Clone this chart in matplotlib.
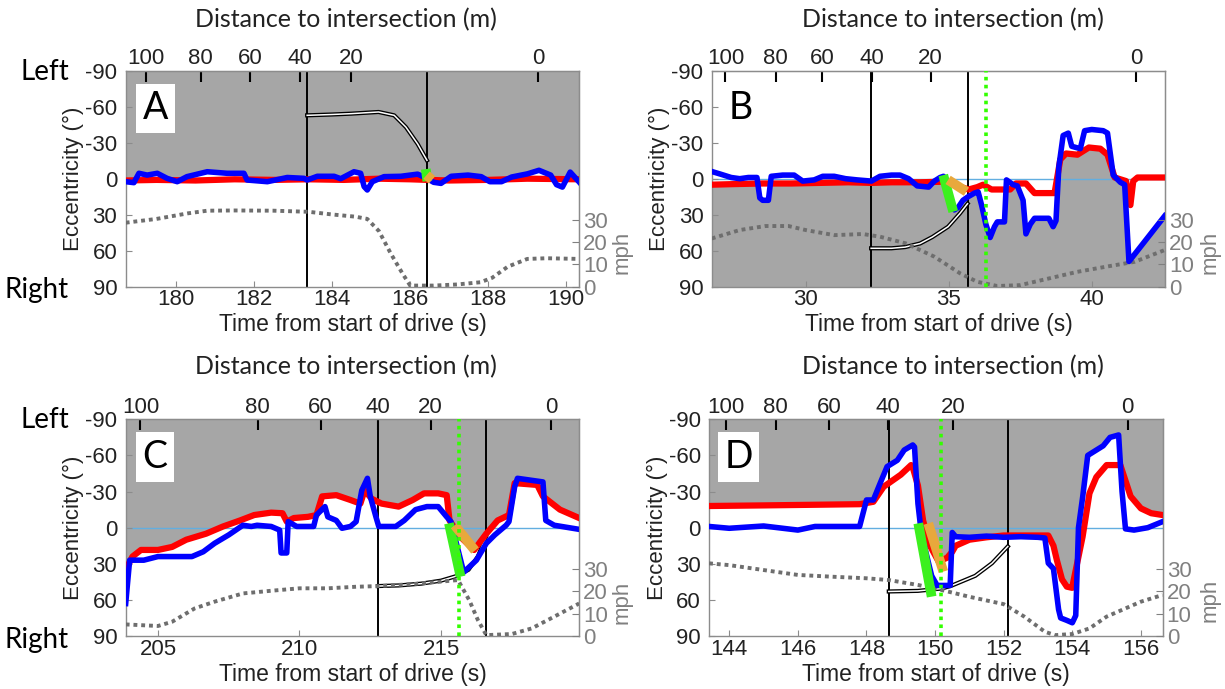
import numpy as np
import matplotlib
matplotlib.use("Agg")
import matplotlib.pyplot as plt

plt.rcParams['font.family'] = ['Liberation Sans', 'DejaVu Sans']
plt.rcParams['axes.unicode_minus'] = False

ecc_ticks = [-90, -60, -30, 0, 30, 60, 90]
ecc_labels = ['-90', '-60', '-30', '0', '30', '60', '90']
mph_ticks = [0, 10, 20, 30]
dist_labels = ['100', '80', '60', '40', '20', '0']

# ---- panel A ----
a_xlim = (178.71, 190.33)
a_xticks = [180, 182, 184, 186, 188, 190]
a_dist_t = [179.22, 180.63, 181.90, 183.17, 184.49, 189.28]
a_t_red = [178.71, 179.5, 180.5, 181.5, 182.5, 183.4, 184.3, 185.2, 186.0, 186.45, 187.0, 188.0, 189.0, 190.33]
a_red = [1.5, 1, 1.5, 0.5, 1, 0.5, 1, 0, 0.5, 1, 1.5, 1, 0, 0.5]
a_t_blue = [178.71, 178.92, 179.05, 179.26, 179.52, 179.77, 180.03, 180.28, 180.8, 181.31,
            181.74, 181.82, 182.34, 182.85, 183.28, 183.36, 183.62, 184.05, 184.22, 184.56,
            184.73, 184.82, 184.9, 185.03, 185.33, 185.76, 186.19, 186.45, 186.6, 186.79,
            187.05, 187.48, 187.82, 188.04, 188.34, 188.6, 189.0, 189.3, 189.6, 189.75,
            189.9, 190.1, 190.33]
a_blue = [2.5, 3.3, -4.5, -3, -4.5, -0.3, 2.5, -1.7, -5.8, -4.5,
          -4.5, 1.1, 2.5, -1, -0.3, 1.1, -2, -2, 0, -5.8,
          -4.5, 6.6, 9.4, 2.5, -1.7, -2, -3.8, 0, 3, 3.9,
          -2, -3, -1.7, 2.5, 2.5, -1.4, -4, -7, -3, 5,
          7, -5.5, 2.8]
a_t_spd = [178.71, 179.5, 180.3, 180.8, 181.5, 182.5, 183.4, 184.0, 184.6, 184.9, 185.2,
           185.5, 185.8, 186.0, 186.6, 187.2, 187.8, 188.1, 188.5, 189.0, 189.5, 190.33]
a_spd = [28.8, 30.5, 33, 34.2, 34.3, 34.2, 33.7, 32.5, 31.5, 30.5, 25,
         15, 6, 0.5, 0.5, 1, 2, 4, 9, 12.5, 12.8, 12.5]
a_t_path = [183.36, 184.0, 184.49, 185.19, 185.59, 185.89, 186.19, 186.43]
a_path = [-52.8, -53.5, -54.2, -55.6, -52.8, -43, -29, -15.3]
a_vlines = [183.36, 186.43]
a_green = ([186.40, 186.44], [-8, 2])
a_orange = ([186.42, 186.56], [-3, 1])

# ---- panel B ----
b_xlim = (26.72, 42.55)
b_xticks = [30, 35, 40]
b_dist_t = [27.2, 28.95, 30.59, 32.32, 34.37, 41.54]
b_t_red = [26.72, 27.5, 28.5, 29.5, 30.5, 31.5, 32.3, 33.0, 34.0, 34.8, 35.3, 35.7, 36.0, 36.2,
           36.5, 37.15, 37.35, 37.7, 38.0, 38.7, 38.9, 39.1, 39.5, 39.9, 40.3, 40.55, 40.8,
           41.2, 41.35, 41.45, 41.6, 42.55]
b_red = [5, 4.5, 4, 4, 3.5, 3, 3.5, 3, 3, 2.5, 6, 9, 7, 5,
         9, 9, 4, 4, 12, 12, -16, -21, -20, -26, -25, -20, -1,
         2, 22, 2, -1, -1]
b_t_blue = [26.72, 27.0, 27.4, 27.7, 28.0, 28.3, 28.4, 28.5, 28.7, 28.8,
            29.2, 29.6, 29.9, 30.3, 30.6, 31.0, 31.4, 31.8, 32.3, 32.6,
            33.0, 33.3, 33.6, 33.9, 34.3, 34.5, 34.7, 34.82, 35.2, 35.33,
            35.5, 35.68, 35.9, 36.03, 36.15, 36.3, 36.45, 36.6, 36.7, 36.95,
            37.02, 37.25, 37.4, 37.6, 37.7, 37.85, 38.0, 38.5, 38.65, 38.75,
            38.85, 39.0, 39.18, 39.3, 39.6, 39.75, 40.0, 40.4, 40.55, 40.75,
            41.0, 41.15, 41.3, 42.55]
b_blue = [-6, -4, -1, 0, -1, -1, 16, 18, 18, -2,
          -3, -3, 2, 1, -2, -2, 0, 1, 2, -2,
          -3, -3, 0, 6, 7, 2, -1, -2, 26, 24,
          18, 15, 12, 11, 22, 38, 49, 40, 36, 36,
          1, 5, 6, 18, 46, 38, 33, 33, 40, 35,
          -10, -36, -38, -27, -25, -40, -41, -40, -38, -3,
          3, 5, 69, 31]
b_t_spd = [26.72, 27.7, 28.6, 29.4, 30.0, 31.0, 32.0, 32.6, 33.5, 34.5, 35.4, 36.0, 36.7,
           37.5, 38.5, 39.5, 40.5, 41.5, 42.55]
b_spd = [21.7, 25.5, 27.3, 27.3, 25.5, 23.2, 23.7, 22.5, 19.5, 13.5, 6, 2.2, 0.3,
         0.7, 3.7, 6.7, 9, 11.2, 16.5]
b_t_path = [32.29, 33.0, 33.48, 34.0, 34.43, 34.98, 35.39, 35.66]
b_path = [58, 58, 57, 54, 48.6, 40, 29, 20.8]
b_vlines = [32.29, 35.66]
b_gaze = 36.32
b_green = ([34.81, 35.16], [-3, 27.5])
b_orange = ([34.98, 35.62], [1, 10.8])

# ---- panel C ----
c_xlim = (203.86, 219.88)
c_xticks = [205, 210, 215]
c_dist_t = [204.38, 208.52, 210.75, 212.77, 214.63, 218.89]
c_t_red = [203.86, 204.1, 204.4, 205.0, 205.5, 206.0, 206.7, 207.3, 207.9, 208.4,
           209.0, 209.4, 209.55, 209.8, 210.3, 210.6, 210.8, 211.3, 211.8, 212.15,
           212.3, 212.55, 212.9, 213.5, 214.0, 214.4, 214.9, 215.2, 215.3, 215.7,
           216.17, 216.6, 217.0, 217.4, 217.6, 218.4, 218.6, 219.2, 219.88]
c_red = [35, 24, 18.5, 18.5, 16, 10, 5, -1, -6, -10.5,
         -12.5, -12, -5, -8, -9, -10.5, -26, -27, -23, -20,
         -31, -24, -20, -17.5, -23, -28.5, -28.5, -27, -6, 8,
         18.5, 5, -6, -10.5, -37, -35.5, -26, -15, -8]
c_t_blue = [203.86, 204.0, 204.5, 205.0, 205.6, 206.2, 206.6, 207.0, 207.5, 208.0,
            208.3, 208.5, 209.0, 209.3, 209.35, 209.55, 209.6, 209.9, 210.5, 210.6,
            210.9, 211.0, 211.3, 211.5, 211.8, 212.0, 212.2, 212.4, 212.5, 212.7,
            212.8, 213.4, 213.7, 214.1, 214.5, 214.9, 215.2, 215.35, 215.8, 216.25,
            216.6, 216.9, 217.3, 217.4, 217.6, 217.7, 218.6, 218.7, 219.0, 219.88]
c_blue = [63, 27, 27, 24, 24, 24, 20, 13, 6, -2,
          -1, -2, -1, 2, 21, 21, -5, -1, -1, -10.5,
          -17.5, -9, -6, 0.5, -1, -5, -31, -41, -26, -9,
          -1, -1, -6, -15, -17.5, -17.5, -9, -5, 37, 27,
          13, 6, -2, -5, -34, -41, -38, -6, -2, 1.4]
c_t_spd = [203.86, 205.0, 205.5, 206.3, 207.0, 208.0, 209.0, 210.0, 211.0, 212.0, 212.8,
           214.0, 215.0, 215.6, 216.0, 216.3, 216.6, 217.5, 218.2, 219.0, 219.88]
c_spd = [5.2, 4.5, 6.4, 12.4, 15.4, 19.1, 20.3, 21.4, 21.4, 22.1, 22.4,
         23.3, 24.4, 25.1, 16, 7.2, 0.4, 0.9, 3.4, 8.7, 14.6]
c_t_path = [212.77, 213.5, 214.3, 215.0, 215.5, 215.97, 216.3, 216.59]
c_path = [48.5, 48, 46.5, 44, 40.5, 35, 24, 7.5]
c_vlines = [212.77, 216.59]
c_gaze = 215.65
c_green = ([215.28, 215.69], [-3.6, 40.7])
c_orange = ([215.48, 216.2], [-2, 19])

# ---- panel D ----
d_xlim = (143.41, 156.63)
d_xticks = [144, 146, 148, 150, 152, 154, 156]
d_dist_t = [143.91, 145.35, 146.91, 148.62, 150.52, 155.61]
d_t_red = [143.41, 145.0, 147.8, 148.2, 148.5, 149.0, 149.3, 149.35, 149.5, 149.65,
           149.85, 150.1, 150.35, 150.5, 150.6, 151.0, 151.5, 152.0, 153.3, 153.45,
           153.55, 153.7, 153.84, 154.0, 154.03, 154.3, 154.5, 154.7, 155.0, 155.4,
           155.7, 156.0, 156.3, 156.63]
d_red = [-18, -18.5, -19.5, -21.5, -34, -44, -52, -50, -35, -6,
         15, 28, 25, 20, 15, 10, 8, 6.5, 6.5, 15,
         27, 43, 49, 50, 45, 7.5, -28.5, -42, -52, -52,
         -26, -16, -12, -10.5]
d_t_blue = [143.41, 144.0, 145.0, 146.0, 146.5, 147.5, 147.8, 148.0, 148.2, 148.4,
            148.6, 148.9, 149.1, 149.35, 149.4, 149.5, 149.6, 149.9, 150.06, 150.44,
            150.5, 150.6, 151.0, 151.5, 152.0, 152.5, 153.0, 153.2, 153.3, 153.45,
            153.6, 153.66, 153.84, 154.0, 154.1, 154.18, 154.3, 154.45, 154.9, 155.1,
            155.35, 155.45, 155.55, 155.8, 156.2, 156.63]
d_blue = [-1, 0.5, -1.4, 2, -1, -1, -1, -23, -23, -37,
          -50.7, -56, -64.5, -68.7, -67, -20, 5, 40, 48, 48,
          4, 7.5, 8, 7, 8, 7.5, 8, 8.6, 29.5, 34,
          68, 75, 77, 79, 73, 0, -25, -60, -68, -75,
          -77, -30, 1, 2, 0, -5]
d_t_spd = [143.41, 144.0, 145.0, 146.0, 147.0, 148.0, 148.65, 149.5, 150.2, 151.0, 152.0,
           152.6, 153.2, 153.5, 154.0, 154.5, 155.0, 156.0, 156.63]
d_spd = [32.6, 31.8, 29.6, 27.4, 26.6, 25.9, 25.1, 22.9, 20.6, 17.6, 14.3,
         8.7, 1.9, 0.4, 0.9, 3.4, 8.7, 15.4, 18.4]
d_t_path = [148.65, 149.5, 150.2, 150.47, 151.17, 151.66, 152.12]
d_path = [53, 52.5, 50.5, 48.3, 40, 29.5, 15.6]
d_vlines = [148.65, 152.12]
d_gaze = 150.16
d_green = ([149.51, 149.9], [-3.6, 57.3])
d_orange = ([149.8, 150.24], [-3.6, 36.5])

GRAY = '#a6a6a6'
FRAME = '#8c8c8c'
TXT = '#222222'
W, H = 1225, 689
TICK_FS = 16


def draw_panel(rect, xlim, xticks, dist_t, t_red, red, t_blue, blue, t_spd, spd,
               t_path, path, vlines, gaze, green, orange, letter, side):
    ax = fig.add_axes(rect)
    ax.set_xlim(*xlim)
    ax.set_ylim(90, -90)
    ax2 = ax.twinx()
    ax2.set_ylim(0, 97.2)

    # shaded hemifield
    tt = np.linspace(xlim[0], xlim[1], 4000)
    r = np.interp(tt, t_red, red)
    b = np.interp(tt, t_blue, blue)
    if side == 'left':
        ax.fill_between(tt, -90, np.minimum(r, b), color=GRAY, lw=0, zorder=0)
    else:
        ax.fill_between(tt, np.maximum(r, b), 90, color=GRAY, lw=0, zorder=0)

    ax.axhline(0, color='#62aee0', lw=1, zorder=1)
    for v in vlines:
        ax.axvline(v, color='k', lw=1.4, zorder=2)
    ax.plot(t_path, path, color='k', lw=3.0, zorder=3)
    ax.plot(t_path, path, color='white', lw=1.1, zorder=3)
    ax.plot(t_spd, spd, transform=ax2.transData, color='#6e6e6e', lw=2.8,
            ls=(0, (1, 1.0)), zorder=3)
    ax.plot(t_red, red, color='#ff0000', lw=4.5, zorder=4)
    ax.plot(t_blue, blue, color='#0000ff', lw=4, zorder=5)
    ax.plot(green[0], green[1], color='#3cf01e', lw=7, solid_capstyle='butt', zorder=6)
    ax.plot(orange[0], orange[1], color='#e8a83c', lw=7, solid_capstyle='butt', zorder=6)
    if gaze is not None:
        ax.axvline(gaze, color='#33ff00', lw=2.6, ls=(0, (1, 1.2)), zorder=7)

    ax.set_xticks(xticks)
    ax.set_yticks(ecc_ticks, labels=ecc_labels)
    ax.tick_params(axis='x', direction='in', length=4, color=FRAME, labelsize=TICK_FS,
                   labelcolor=TXT, pad=2, top=False)
    ax.tick_params(axis='y', direction='in', length=4, color=FRAME, labelsize=TICK_FS,
                   labelcolor=TXT, pad=6, right=False)
    for s in ax.spines.values():
        s.set_color(FRAME)
        s.set_linewidth(1)

    ax2.set_yticks(mph_ticks)
    ax2.tick_params(axis='y', direction='in', length=5, color='#808080',
                    labelcolor='#808080', labelsize=TICK_FS, pad=3)
    for k, s in ax2.spines.items():
        s.set_visible(k == 'right')
    ax2.spines['right'].set_color(FRAME)

    sec = ax.secondary_xaxis('top')
    sec.set_xticks(dist_t, labels=dist_labels)
    sec.tick_params(direction='in', length=8, width=1.5, color='k', labelsize=TICK_FS,
                    labelcolor=TXT, pad=1)
    sec.spines['top'].set_color(FRAME)

    ax.text(0.065, 0.825, letter, transform=ax.transAxes, ha='center', va='center',
            fontsize=27, family=['Lato', 'DejaVu Sans'], zorder=10,
            bbox=dict(facecolor='white', edgecolor='none', boxstyle='square,pad=0.18'))
    return ax


def ftext(x, y, s, **kw):
    fig.text(x / W, 1 - y / H, s, **kw)


fig = plt.figure(figsize=(12.25, 6.89), dpi=100)

draw_panel([0.1026, 0.5839, 0.3702, 0.3135], a_xlim, a_xticks, a_dist_t, a_t_red, a_red,
           a_t_blue, a_blue, a_t_spd, a_spd, a_t_path, a_path, a_vlines, None,
           a_green, a_orange, 'A', 'left')
draw_panel([0.581, 0.5839, 0.3698, 0.3135], b_xlim, b_xticks, b_dist_t, b_t_red, b_red,
           b_t_blue, b_blue, b_t_spd, b_spd, b_t_path, b_path, b_vlines, b_gaze,
           b_green, b_orange, 'B', 'right')
draw_panel([0.1026, 0.0769, 0.3702, 0.3145], c_xlim, c_xticks, c_dist_t, c_t_red, c_red,
           c_t_blue, c_blue, c_t_spd, c_spd, c_t_path, c_path, c_vlines, c_gaze,
           c_green, c_orange, 'C', 'left')
draw_panel([0.5788, 0.0769, 0.3702, 0.3145], d_xlim, d_xticks, d_dist_t, d_t_red, d_red,
           d_t_blue, d_blue, d_t_spd, d_spd, d_t_path, d_path, d_vlines, d_gaze,
           d_green, d_orange, 'D', 'left')

lato = ['Lato', 'DejaVu Sans']
for x, y in [(346, 20), (953, 20), (346, 367), (953, 367)]:
    ftext(x, y, 'Distance to intersection (m)', ha='center', va='center', fontsize=18,
          family=lato, color=TXT)
for x, y in [(352.5, 325), (938.5, 325), (352.5, 674), (936, 674)]:
    ftext(x, y, 'Time from start of drive (s)', ha='center', va='center', fontsize=16.5,
          color=TXT)
for x, y in [(73, 178.7), (659, 178.7), (73, 527.7), (657, 527.7)]:
    ftext(x, y, 'Eccentricity (°)', ha='center', va='center', rotation=90, fontsize=16,
          color=TXT)
for x, y in [(622, 252), (1210, 252), (622, 602), (1210, 600)]:
    ftext(x, y, 'mph', ha='center', va='center', rotation=90, fontsize=16, color='#808080')
for y_left, y_right in [(72, 290), (420, 640)]:
    ftext(69, y_left, 'Left', ha='right', va='center', fontsize=20, family=lato)
    ftext(69, y_right, 'Right', ha='right', va='center', fontsize=20, family=lato)

fig.savefig('out.png', dpi=100)
